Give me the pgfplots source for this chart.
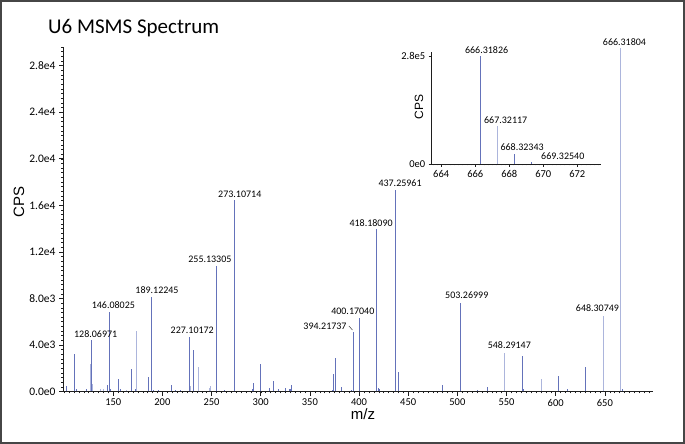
\documentclass[border=0pt]{standalone}
\usepackage{fontspec}
\setmainfont{Carlito}
\newfontfamily\arialf{Liberation Sans}
\usepackage{pgfplots}
\pgfplotsset{compat=1.18}
\definecolor{darkbar}{RGB}{100,114,186}
\definecolor{lightbar}{RGB}{172,181,220}
\definecolor{axcol}{RGB}{30,30,30}
\definecolor{framecol}{RGB}{70,70,70}
\pgfplotstableread{
x y
102.2 460
110.3 3260
112.5 200
122.5 250
128.06971 4400
144.6 540
146.08025 6830
147.2 200
155.4 1070
157.0 200
168.6 1960
172.3 200
186.2 1240
189.12245 8100
191.0 150
196.0 150
209.7 540
213.0 150
218.0 150
227.10172 4700
231.3 3560
255.13305 10800
263.0 150
273.10714 16480
291.7 250
292.7 730
299.8 2360
309.0 315
313.0 925
318.0 230
325.6 300
329.0 180
330.5 200
331.4 600
372.5 150
374.0 1530
376.1 2850
382.2 380
392.8 170
394.21737 5120
400.17040 6300
418.18090 13970
419.4 340
420.6 180
437.25961 17340
440.2 1660
485.3 540
503.26999 7610
520.6 150
530.4 360
566.3 3040
567.5 180
603.2 1360
612.0 210
630.4 2120
667.8 180
}\darktab
\pgfplotstableread{
x y
127.2 2360
129.1 650
137.5 180
139.8 200
163.0 150
173.4 5200
228.4 500
237.1 2130
247.5 300
248.6 450
548.29147 3340
585.1 1040
648.30749 6500
666.31804 29500
}\lighttab
\begin{document}
\begin{tikzpicture}[
  lab/.style={anchor=base, inner sep=0pt, font=\fontsize{10}{12}\selectfont, text=black},
]
\useasboundingbox (0pt,0pt) rectangle (685pt,444pt);
\draw[line width=2pt, framecol] (1pt,1pt) rectangle (684pt,443pt);
\node[anchor=base west, inner sep=0pt, font=\fontsize{21}{25}\selectfont] at (48pt,410.7pt) {U6 MSMS Spectrum};
\node[rotate=90, inner sep=0pt, font=\arialf\fontsize{15}{17}\selectfont] at (19pt,242.3pt) {CPS};
\node[anchor=base, inner sep=0pt, font=\arialf\fontsize{15}{17}\selectfont] at (363pt,24pt) {m/z};
\node[rotate=90, inner sep=0pt, font=\arialf\fontsize{12}{14}\selectfont] at (419pt,337.3pt) {CPS};
\begin{axis}[
  at={(63pt,52.5pt)}, anchor=south west, scale only axis,
  width=590.3pt, height=344.5pt,
  xmin=98.9, xmax=699.3, ymin=0, ymax=29600,
  axis x line=bottom, axis y line=left,
  axis line style={-, axcol, line width=0.8pt},
  xtick={150,200,...,650},
  xticklabels={150,200,250,300,350,400,450,500,550,600,650},
  minor xtick={100,105,...,695},
  ytick={0,4000,...,28000},
  yticklabels={0.0e0,4.0e3,8.0e3,1.2e4,1.6e4,2.0e4,2.4e4,2.8e4},
  minor ytick={400,800,...,29600},
  tick align=outside, major tick length=4pt, minor tick length=2pt,
  major tick style={axcol, line width=0.6pt},
  minor tick style={axcol, line width=0.4pt},
  xticklabel style={font=\fontsize{10.5}{12}\selectfont},
  yticklabel style={font=\fontsize{11.5}{13}\selectfont},
  scaled ticks=false,
  clip=false,
]
\addplot[ycomb, draw=lightbar, line width=1pt, mark=none] table {\lighttab};
\addplot[ycomb, draw=darkbar, line width=1pt, mark=none] table {\darktab};
\node[lab, xshift=4pt, yshift=3.2pt] at (axis cs:128.06971,4400) {128.06971};
\node[lab, xshift=4pt, yshift=3.4pt] at (axis cs:146.08025,6830) {146.08025};
\node[lab, xshift=5.3pt, yshift=3.4pt] at (axis cs:189.12245,8100) {189.12245};
\node[lab, xshift=3.2pt, yshift=3.2pt] at (axis cs:227.10172,4700) {227.10172};
\node[lab, xshift=-6.7pt, yshift=3.2pt] at (axis cs:255.13305,10800) {255.13305};
\node[lab, xshift=5.5pt, yshift=2.6pt] at (axis cs:273.10714,16480) {273.10714};
\node[lab, anchor=base east, xshift=-6.6pt, yshift=2.1pt] at (axis cs:394.21737,5120) {394.21737};
\draw[axcol, line width=0.4pt] ([xshift=-4.5pt,yshift=6pt]axis cs:394.21737,5120) -- ([xshift=-1pt,yshift=2pt]axis cs:394.21737,5120);
\node[lab, xshift=-6.4pt, yshift=3.4pt] at (axis cs:400.17040,6300) {400.17040};
\node[lab, xshift=-5.8pt, yshift=2.8pt] at (axis cs:418.18090,13970) {418.18090};
\node[lab, xshift=4.4pt, yshift=2.8pt] at (axis cs:437.25961,17340) {437.25961};
\node[lab, xshift=6.2pt, yshift=4pt] at (axis cs:503.26999,7610) {503.26999};
\node[lab, xshift=4.5pt, yshift=4.5pt] at (axis cs:548.29147,3340) {548.29147};
\node[lab, xshift=-5.7pt, yshift=4.5pt] at (axis cs:648.30749,6500) {648.30749};
\node[lab, xshift=3.6pt, yshift=2.4pt] at (axis cs:666.31804,29500) {666.31804};
\end{axis}
\begin{axis}[
  at={(431.7pt,280pt)}, anchor=south west, scale only axis,
  width=169pt, height=111.7pt,
  xmin=663.44, xmax=673.38, ymin=0, ymax=289600,
  axis x line=bottom, axis y line=left,
  axis line style={-, axcol, line width=0.8pt},
  xtick={664,666,668,670,672},
  xticklabels={664,666,668,670,672},
  minor xtick={663.5,663.75,...,673.25},
  ytick={0,280000},
  yticklabels={0e0,2.8e5},
  tick align=outside, major tick length=3pt, minor tick length=1.5pt,
  major tick style={axcol, line width=0.6pt},
  minor tick style={axcol, line width=0.3pt},
  xticklabel style={font=\fontsize{10.5}{12}\selectfont},
  yticklabel style={font=\fontsize{10.5}{12}\selectfont},
  scaled ticks=false,
  clip=false,
]
\addplot[ycomb, draw=darkbar, line width=1pt, mark=none] table[row sep=\\] {x y\\ 666.31826 280800\\ 668.32343 25900\\ 669.32540 5000\\};
\addplot[ycomb, draw=lightbar, line width=1pt, mark=none] table[row sep=\\] {x y\\ 667.32117 98500\\};
\node[lab, xshift=6pt, yshift=2.5pt] at (axis cs:666.31826,280800) {666.31826};
\node[lab, xshift=8pt, yshift=2.8pt] at (axis cs:667.32117,98500) {667.32117};
\node[lab, xshift=7.4pt, yshift=3.1pt] at (axis cs:668.32343,25900) {668.32343};
\node[lab, xshift=31pt, yshift=2.1pt] at (axis cs:669.32540,5000) {669.32540};
\end{axis}
\end{tikzpicture}
\end{document}
